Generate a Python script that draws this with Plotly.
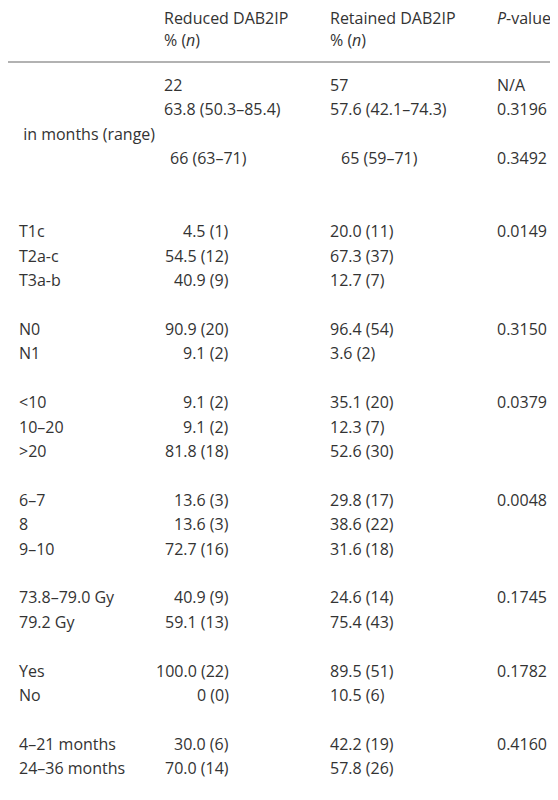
import plotly.graph_objects as go

labels = ["Sample size, <i>n</i>", "Median follow up", " in months (range)", "Median age in years", "(range)",
          "T stage", "T1c", "T2a-c", "T3a-b", "N stage", "N0", "N1",
          "Pretreatment PSA", "<10", "10–20", ">20", "Gleason score", "6–7", "8", "9–10",
          "Total radiation dose", "73.8–79.0 Gy", "79.2 Gy", "Hormone therapy", "Yes", "No",
          "Duration of hormone therapy", "4–21 months", "24–36 months"]
indent = [0, 0, 1, 0, 0, 0, 1, 1, 1, 0, 1, 1, 0, 1, 1, 1, 0, 1, 1, 1, 0, 1, 1, 0, 1, 1, 0, 1, 1]
reduced = ["22", "63.8 (50.3–85.4)", "", "66 (63–71)", "", "", "4.5 (1)", "54.5 (12)", "40.9 (9)", "",
           "90.9 (20)", "9.1 (2)", "", "9.1 (2)", "9.1 (2)", "81.8 (18)", "", "13.6 (3)", "13.6 (3)",
           "72.7 (16)", "", "40.9 (9)", "59.1 (13)", "", "100.0 (22)", "0 (0)", "", "30.0 (6)", "70.0 (14)"]
retained = ["57", "57.6 (42.1–74.3)", "", "65 (59–71)", "", "", "20.0 (11)", "67.3 (37)", "12.7 (7)", "",
            "96.4 (54)", "3.6 (2)", "", "35.1 (20)", "12.3 (7)", "52.6 (30)", "", "29.8 (17)", "38.6 (22)",
            "31.6 (18)", "", "24.6 (14)", "75.4 (43)", "", "89.5 (51)", "10.5 (6)", "", "42.2 (19)", "57.8 (26)"]
pvals = ["N/A", "0.3196", "", "0.3492", "", "", "0.0149", "", "", "", "0.3150", "", "", "0.0379", "", "",
         "", "0.0048", "", "", "", "0.1745", "", "", "0.1782", "", "", "0.4160", ""]
header = [("Category", 5, 40), ("Reduced DAB2IP", 163, 18), ("% (<i>n</i>)", 163, 40),
          ("Retained DAB2IP", 329, 18), ("% (<i>n</i>)", 329, 40), ("<i>P</i>-value", 496, 18)]

FONT = dict(family="Open Sans", size=16, color="#333333")
DX, DY = -9, -8
ann = []
def add(t, x, y, anchor="left"):
    if t:
        ann.append(dict(text=t, x=x + DX, y=y + DY, xref="x", yref="y", xanchor=anchor, yanchor="middle",
                        showarrow=False, font=FONT))
for t, x, y in header:
    add(t, x, y)
for i in range(len(labels)):
    y = 85 + i * 24.4
    add(labels[i], 5 + 13 * indent[i], y)
    if i == 3:
        add(reduced[i], 250, y, "right")
        add(retained[i], 340, y)
    elif indent[i] == 1 and reduced[i]:
        add(reduced[i], 232, y, "right")
        add(retained[i], 329, y)
    else:
        add(reduced[i], 163, y)
        add(retained[i], 329, y)
    add(pvals[i], 496, y)

fig = go.Figure()
fig.update_layout(width=558, height=800, margin=dict(l=0, r=0, t=0, b=0),
                  paper_bgcolor="white", plot_bgcolor="white", annotations=ann,
                  xaxis=dict(range=[0, 558], visible=False),
                  yaxis=dict(range=[800, 0], visible=False),
                  shapes=[dict(type="line", xref="x", yref="y", x0=0, x1=558, y0=62 + DY, y1=62 + DY,
                               line=dict(color="#999999", width=1.5))])
fig.write_html("out.html")
